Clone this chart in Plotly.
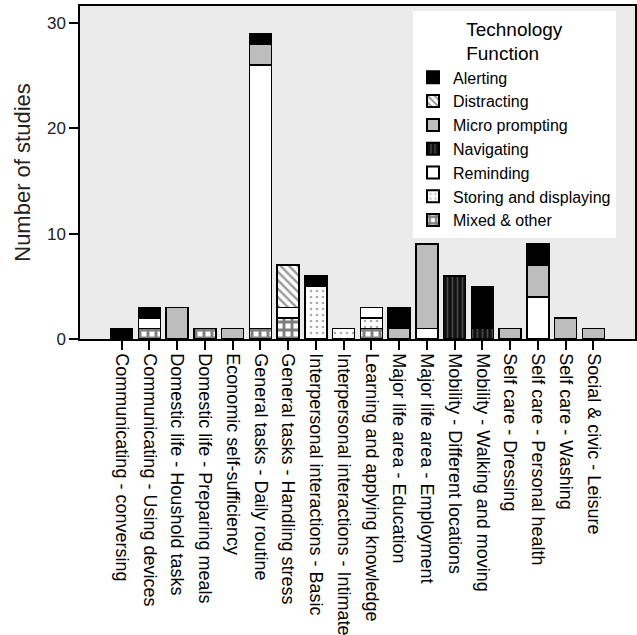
import plotly.graph_objects as go

categories = [
    "Communicating - conversing",
    "Communicating - Using devices",
    "Domestic life - Houshold tasks",
    "Domestic life - Preparing meals",
    "Economic self-sufficiency",
    "General tasks - Daily routine",
    "General tasks - Handling stress",
    "Interpersonal interactions - Basic",
    "Interpersonal interactions - Intimate",
    "Learning and applying knowledge",
    "Major life area - Education",
    "Major life area - Employment",
    "Mobility - Different locations",
    "Mobility - Walking and moving",
    "Self care - Dressing",
    "Self care - Personal health",
    "Self care - Washing",
    "Social & civic - Leisure",
]

mixed      = [0, 1, 0, 1, 0, 1, 2, 0, 0, 1, 0, 0, 0, 0, 0, 0, 0, 0]
storing    = [0, 0, 0, 0, 0, 0, 0, 5, 1, 1, 0, 0, 0, 0, 0, 0, 0, 0]
reminding  = [0, 1, 0, 0, 0, 25, 1, 0, 0, 1, 0, 1, 0, 0, 0, 4, 0, 0]
navigating = [0, 0, 0, 0, 0, 0, 0, 0, 0, 0, 0, 0, 6, 1, 0, 0, 0, 0]
micro      = [0, 0, 3, 0, 1, 2, 0, 0, 0, 0, 1, 8, 0, 0, 1, 3, 2, 1]
distract   = [0, 0, 0, 0, 0, 0, 4, 0, 0, 0, 0, 0, 0, 0, 0, 0, 0, 0]
alerting   = [1, 1, 0, 0, 0, 1, 0, 1, 0, 0, 2, 0, 0, 4, 0, 2, 0, 0]

yticks = [0, 10, 20, 30]

series = [
    ("Mixed & other", mixed, dict(color="white", pattern=dict(shape="+", fgcolor="black", bgcolor="white", size=8, solidity=0.6))),
    ("Storing and displaying", storing, dict(color="white", pattern=dict(shape=".", fgcolor="#555555", bgcolor="white", size=6, solidity=0.15))),
    ("Reminding", reminding, dict(color="white")),
    ("Navigating", navigating, dict(color="#1a1a1a", pattern=dict(shape="|", fgcolor="#888888", bgcolor="#111111", size=5, solidity=0.3))),
    ("Micro prompting", micro, dict(color="#bdbdbd")),
    ("Distracting", distract, dict(color="white", pattern=dict(shape="\\", fgcolor="#333333", bgcolor="white", size=6, solidity=0.4))),
    ("Alerting", alerting, dict(color="black")),
]

fig = go.Figure()
for name, vals, mk in series:
    mk = dict(mk)
    mk["line"] = dict(color="black", width=1.5)
    fig.add_trace(go.Bar(x=categories, y=vals, name=name, marker=mk))

fig.update_layout(
    barmode="stack",
    bargap=0.2,
    width=637, height=635,
    margin=dict(l=80, r=2, t=6, b=296),
    paper_bgcolor="white",
    plot_bgcolor="#ebebeb",
    font=dict(family="Liberation Sans, Arial, sans-serif", size=17, color="#222"),
    legend=dict(
        title=dict(text="Technology<br>Function", font=dict(size=19), side="top center"),
        traceorder="reversed",
        x=0.6, y=0.985, xanchor="left", yanchor="top",
        bgcolor="white", borderwidth=0,
        font=dict(size=16, color="black"),
        itemsizing="constant",
        tracegroupgap=0,
        itemwidth=30,
    ),
    showlegend=True,
)

fig.update_yaxes(
    range=[0, 31.6], tickvals=yticks, ticks="outside", ticklen=9, tickcolor="black", tickwidth=1.5,
    showline=True, linecolor="black", linewidth=1.5, mirror=True, showgrid=False, zeroline=False,
    title=dict(text="Number of studies", font=dict(size=22), standoff=10),
    tickfont=dict(size=17), automargin=False,
)
fig.update_xaxes(
    range=[-1.5, 18.5],
    tickangle=90, ticks="outside", ticklen=9, tickcolor="black", tickwidth=1.5,
    showline=True, linecolor="black", linewidth=1.5, mirror=True, showgrid=False,
    tickfont=dict(size=18, color="black"), automargin=False,
)

fig.write_html("out.html", config={"displayModeBar": False},
               post_script="document.body.style.margin='0';")
